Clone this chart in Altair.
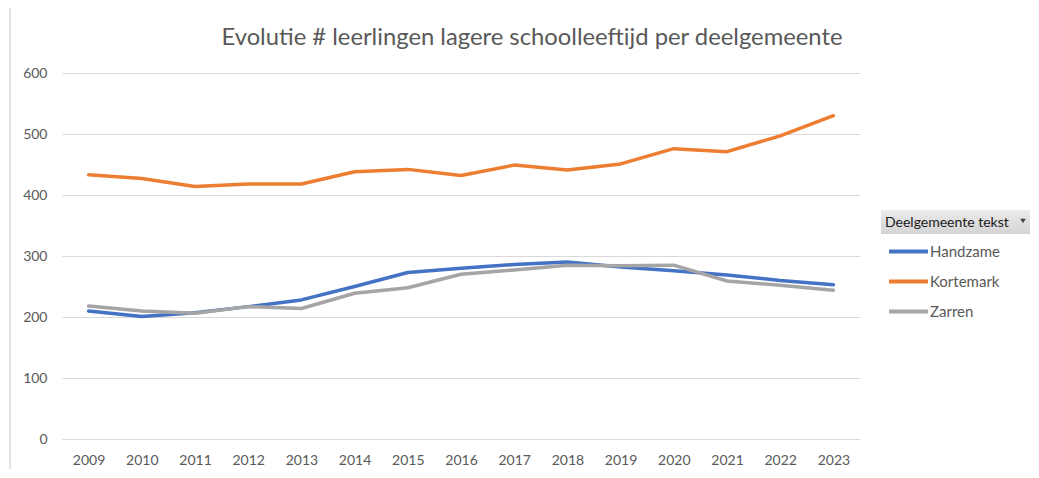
import altair as alt
import pandas as pd

years = list(range(2009, 2024))
handzame = [210, 201, 207, 217, 228, 250, 273, 280, 286, 290, 282, 276, 269, 260, 253]
kortemark = [433, 427, 414, 418, 418, 438, 442, 432, 449, 441, 451, 476, 471, 497, 530]
zarren = [218, 210, 206, 217, 214, 239, 248, 270, 277, 285, 284, 285, 259, 252, 244]
series = ["Handzame", "Kortemark", "Zarren"]
colors = ["#4472C4", "#ED7D31", "#A5A5A5"]
y_ticks = [0, 100, 200, 300, 400, 500, 600]
title_text = "Evolutie # leerlingen lagere schoolleeftijd per deelgemeente"
legend_title = "Deelgemeente tekst"

rows = []
for name, vals in zip(series, [handzame, kortemark, zarren]):
    for yr, v in zip(years, vals):
        rows.append({"Jaar": yr, "Aantal": v, "Deelgemeente": name})
df = pd.DataFrame(rows)
one = pd.DataFrame({"k": [0]})

FONT = "Lato"
W, H = 798, 366

lines = alt.Chart(df).mark_line(strokeWidth=3.5, strokeCap="round", strokeJoin="round").encode(
    x=alt.X("Jaar:O", scale=alt.Scale(type="point", padding=0.5),
            axis=alt.Axis(labelAngle=0, title=None, domain=False, ticks=False, grid=False,
                          labelFontSize=14, labelColor="#595959", labelPadding=14, labelFont=FONT)),
    y=alt.Y("Aantal:Q", scale=alt.Scale(domain=[0, 600], nice=False),
            axis=alt.Axis(values=y_ticks, title=None, domain=False, ticks=False, grid=True,
                          gridColor="#D9D9D9", gridWidth=1, labelFontSize=14, labelColor="#595959",
                          labelPadding=15, labelFont=FONT)),
    color=alt.Color("Deelgemeente:N", scale=alt.Scale(domain=series, range=colors),
                    legend=alt.Legend(title=None, orient="none", legendX=825, legendY=157,
                                      symbolType="stroke", symbolSize=1521, symbolStrokeWidth=4,
                                      symbolOffset=0, labelOffset=0, rowPadding=-8.5, padding=0,
                                      labelFontSize=15, labelColor="#595959", labelFont=FONT)),
)

title_mark = alt.Chart(one).mark_text(align="center", baseline="alphabetic", fontSize=23.8,
                                      font=FONT, color="#595959").encode(
    x=alt.value(470), y=alt.value(-28.5), text=alt.value(title_text)
)
header_box = alt.Chart(one).mark_rect(
    color=alt.LinearGradient(
        gradient="linear", x1=0, x2=0, y1=0, y2=1,
        stops=[alt.GradientStop(color="#EBEBEB", offset=0),
               alt.GradientStop(color="#D4D4D4", offset=1)])
).encode(
    x=alt.value(819), x2=alt.value(977), y=alt.value(137), y2=alt.value(161)
)
header_text = alt.Chart(one).mark_text(align="left", baseline="alphabetic", fontSize=14,
                                       font=FONT, color="#1A1A1A").encode(
    x=alt.value(823), y=alt.value(154), text=alt.value(legend_title)
)
header_arrow = alt.Chart(one).mark_point(shape="triangle-down", filled=True, size=30,
                                         color="#404040", opacity=1).encode(
    x=alt.value(961), y=alt.value(148)
)
frame = alt.Chart(one).mark_rule(color="#D9D9D9", strokeWidth=1.5).encode(
    x=alt.value(-52), y=alt.value(-65), y2=alt.value(404)
)

chart = alt.layer(frame, lines, title_mark, header_box, header_text, header_arrow).properties(
    width=W, height=H,
    background="white",
    autosize=alt.AutoSizeParams(type="none"),
    padding={"left": 54, "top": 65, "right": 170, "bottom": 30},
).configure_view(strokeWidth=0, stroke="transparent")

chart.save("out.html", embed_options={"renderer": "svg", "actions": False})
